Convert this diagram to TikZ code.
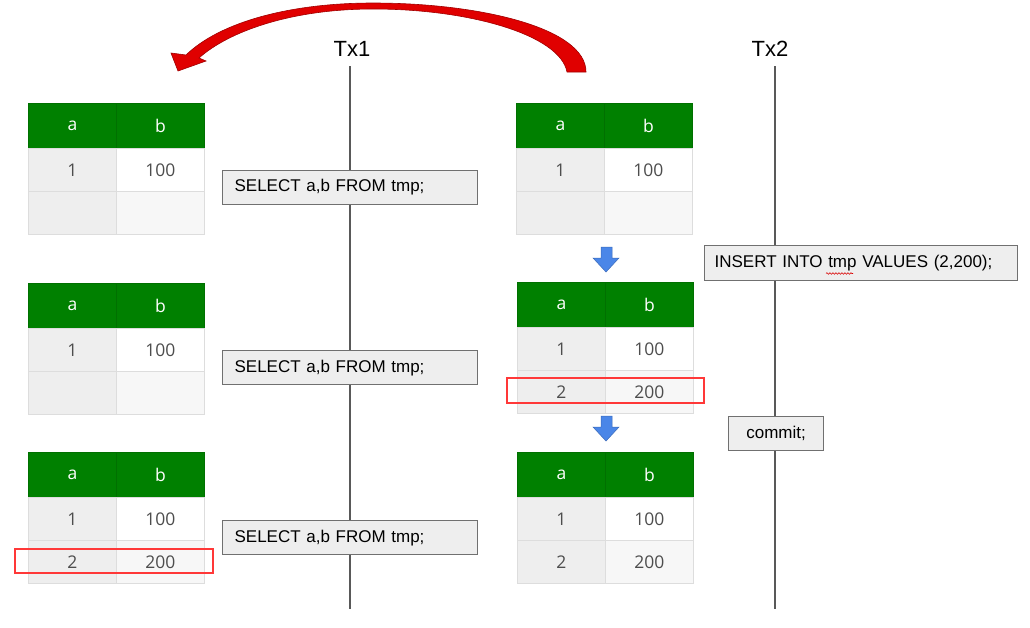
\documentclass[tikz,border=0pt]{standalone}
\usepackage{fontspec}
\setmainfont{Liberation Sans}
\newfontfamily\tabfont{Open Sans}
\usetikzlibrary{decorations.pathmorphing}
\definecolor{hdrgreen}{HTML}{008000}
\definecolor{hdrline}{HTML}{007000}
\definecolor{cellline}{HTML}{DDDDDD}
\definecolor{cellA}{HTML}{EEEEEE}
\definecolor{cellB}{HTML}{F7F7F7}
\definecolor{celltext}{HTML}{4D4D4D}
\definecolor{boxfill}{HTML}{EEEEEE}
\definecolor{boxline}{HTML}{707070}
\definecolor{hilite}{HTML}{FF3838}
\definecolor{arrowblue}{HTML}{4A86E8}
\definecolor{arrowred}{HTML}{E00000}
\definecolor{arrowdark}{HTML}{A00000}
\tikzset{
  cell/.style={draw=cellline, line width=0.8pt, minimum height=43pt, minimum width=88pt,
    inner sep=0pt, font=\tabfont\fontsize{17.5}{20}\selectfont, text=celltext, anchor=north west},
  hdr/.style={fill=hdrgreen, draw=hdrline, text=white, minimum height=45pt},
  tline/.style={draw=black!65, line width=1.2pt},
  txlabel/.style={font=\fontsize{22}{26}\selectfont, inner sep=0pt},
  sqlbox/.style={draw=boxline, fill=boxfill, line width=1.2pt, anchor=north west,
    font=\fontsize{17}{20}\selectfont, inner ysep=0pt, minimum height=34pt},
  hibox/.style={draw=hilite, line width=1.2pt},
  downarrow/.style={fill=arrowblue, draw=arrowblue!80!black, line width=0.5pt},
}
\newcommand\dbtab[5]{%
  \node[cell,hdr] (#1ha) at (#2,#3) {a};
  \node[cell,hdr] (#1hb) at (#2+88,#3) {b};
  \node[cell,fill=cellA] (#1ra) at (#2,#3+45) {1};
  \node[cell,fill=white] (#1rb) at (#2+88,#3+45) {100};
  \node[cell,fill=cellA] (#1sa) at (#2,#3+88) {#4};
  \node[cell,fill=cellB] (#1sb) at (#2+88,#3+88) {#5};
}
\begin{document}
\begin{tikzpicture}[x=1pt,y=-1pt]
\useasboundingbox[fill=white] (0,0) rectangle (1030,627);

% timelines
\node[txlabel] (tx1) at (352,49) {Tx1};
\node[txlabel] (tx2) at (770,49) {Tx2};
\coordinate (tx1top) at (350,66);
\coordinate (tx1bot) at (350,609);
\coordinate (tx2top) at (775,66);
\coordinate (tx2bot) at (775,609);
\draw[tline] (tx1top) -- (tx1bot);
\draw[tline] (tx2top) -- (tx2bot);

% tables
\dbtab{La}{28}{103}{}{}
\dbtab{Lb}{28}{283}{}{}
\dbtab{Lc}{28}{452}{2}{200}
\dbtab{Ra}{516}{103}{}{}
\dbtab{Rb}{517}{282}{2}{200}
\dbtab{Rc}{517}{452}{2}{200}

% highlights
\draw[hibox] (15,549) rectangle (213,573);
\draw[hibox] (507,378) rectangle (704,403);

% statements
\node[sqlbox, text width=231pt, inner xsep=12pt, align=left] (s1) at (222,170) {SELECT a,b FROM tmp;};
\node[sqlbox, text width=231pt, inner xsep=12pt, align=left] (s2) at (222,350) {SELECT a,b FROM tmp;};
\node[sqlbox, text width=231pt, inner xsep=12pt, align=left] (s3) at (222,520) {SELECT a,b FROM tmp;};
\node[sqlbox, text width=293pt, inner xsep=10pt, align=left, minimum height=35pt] (ins) at (704,245) {INSERT INTO tmp VALUES (2,200);};
\node[sqlbox, minimum width=95pt] (cm) at (728,416) {commit;};
\draw[red!85!black, line width=0.6pt, decorate, decoration={snake, segment length=3pt, amplitude=0.8pt}]
  (826,273.5) -- (853,273.5);

% blue down arrows
\draw[downarrow] (601,247) -- (612,247) -- (612,258) -- (619,258) -- (606,272) -- (593,258) -- (601,258) -- cycle;
\draw[downarrow, shift={(0,169)}] (601,247) -- (612,247) -- (612,258) -- (619,258) -- (606,272) -- (593,258) -- (601,258) -- cycle;

% red curved arrow
\draw[fill=arrowred, draw=arrowdark, line width=0.6pt]
  (567,72) .. controls (560,35) and (470,9) .. (373,9)
  .. controls (290,9) and (228,32) .. (199,58)
  -- (206,61) -- (178,71) -- (171,53) -- (186,55)
  .. controls (220,22) and (290,3) .. (373,3)
  .. controls (480,3) and (586,28) .. (586,72) -- cycle;
\end{tikzpicture}
\end{document}
